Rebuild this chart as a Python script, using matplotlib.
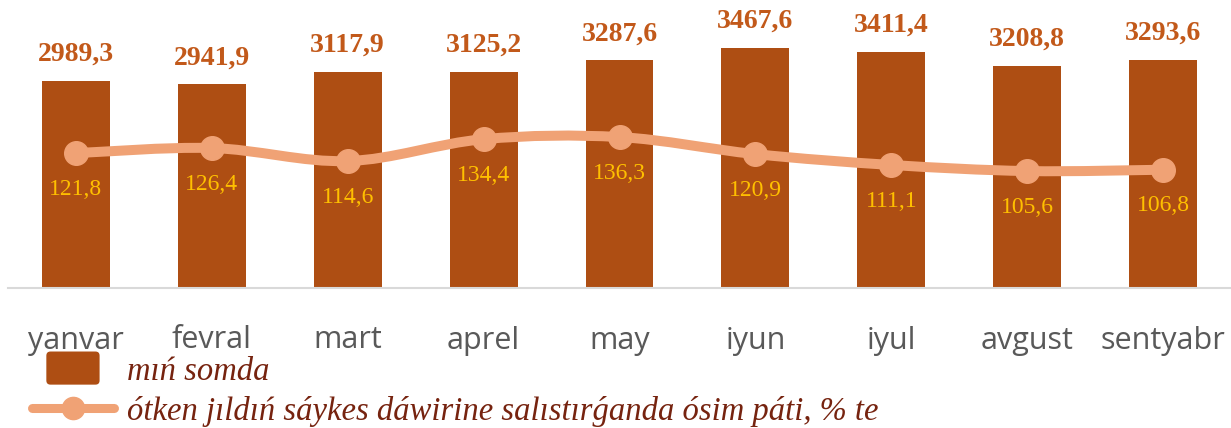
import numpy as np
import matplotlib
matplotlib.use("Agg")
import matplotlib.pyplot as plt
from matplotlib.path import Path
from matplotlib.patches import PathPatch, FancyBboxPatch
from matplotlib.lines import Line2D
from matplotlib.legend_handler import HandlerPatch

# data
months = ["yanvar", "fevral", "mart", "aprel", "may", "iyun", "iyul", "avgust", "sentyabr"]
volume = [2989.3, 2941.9, 3117.9, 3125.2, 3287.6, 3467.6, 3411.4, 3208.8, 3293.6]
growth = [121.8, 126.4, 114.6, 134.4, 136.3, 120.9, 111.1, 105.6, 106.8]
bar_name = "mıń somda"
line_name = "ótken jıldıń sáykes dáwirine salıstırǵanda ósim páti, % te"

BAR_COLOR = "#AE4E13"
BAR_LABEL_COLOR = "#C2591A"
LINE_COLOR = "#F0A275"
LINE_LABEL_COLOR = "#FFC000"
TICK_COLOR = "#595959"
LEGEND_COLOR = "#76230F"
SERIF = ["Liberation Serif", "DejaVu Serif"]


def smooth_path(xs, ys, tension=6.0):
    """Catmull-Rom style cubic bezier through the points (like Excel smoothed lines)."""
    pts = np.column_stack([xs, ys]).astype(float)
    verts = [pts[0]]
    codes = [Path.MOVETO]
    n = len(pts)
    for i in range(n - 1):
        p0 = pts[i - 1] if i > 0 else pts[i]
        p1 = pts[i]
        p2 = pts[i + 1]
        p3 = pts[i + 2] if i + 2 < n else pts[i + 1]
        c1 = p1 + (p2 - p0) / tension
        c2 = p2 - (p3 - p1) / tension
        verts += [c1, c2, p2]
        codes += [Path.CURVE4] * 3
    return Path(verts, codes)


def make_box(legend, orig_handle, xdescent, ydescent, width, height, fontsize):
    w = width * 0.65
    h = height * 1.45
    return FancyBboxPatch((-xdescent + (width - w) / 2, -ydescent + (height - h) / 2), w, h,
                          boxstyle="round,pad=0,rounding_size=3")


fig = plt.figure(figsize=(12.31, 4.28), dpi=100)
ax = fig.add_axes([8 / 1231, 140 / 428, 1223 / 1231, 268 / 428])
x = np.arange(len(months))

bars = ax.bar(x, volume, width=0.5, color=BAR_COLOR, zorder=2)
ax.set_xlim(-0.5, len(months) - 0.5)
ax.set_ylim(0, 3869)
ax.bar_label(bars, labels=[f"{v:.1f}".replace(".", ",") for v in volume], padding=10,
             fontsize=20, fontweight="bold", color=BAR_LABEL_COLOR, family=SERIF)

for side in ["top", "right", "left"]:
    ax.spines[side].set_visible(False)
ax.spines["bottom"].set_color("#D9D9D9")
ax.spines["bottom"].set_linewidth(1.5)
ax.set_yticks([])
ax.set_xticks(x)
ax.set_xticklabels(months, fontsize=22, color=TICK_COLOR, family="Open Sans")
ax.tick_params(axis="x", length=0, pad=27)

ax2 = ax.twinx()
ax2.set_ylim(0, 242)
ax2.axis("off")
ax2.add_patch(PathPatch(smooth_path(x, growth), fill=False, edgecolor=LINE_COLOR,
                        linewidth=7.2, capstyle="round", zorder=3))
ax2.plot(x, growth, linestyle="none", marker="o", markersize=17,
         color=LINE_COLOR, zorder=4)
for xi, g in zip(x, growth):
    ax2.annotate(f"{g:.1f}".replace(".", ","), (xi, g), xytext=(0, -18.5),
                 textcoords="offset points", ha="center", va="top",
                 fontsize=17, color=LINE_LABEL_COLOR, family=SERIF)

handles = [FancyBboxPatch((0, 0), 1, 1, facecolor=BAR_COLOR, edgecolor="none"),
           Line2D([], [], color=LINE_COLOR, linewidth=6.5, marker="o", markersize=16,
                  solid_capstyle="round")]
leg = fig.legend(handles, [bar_name, line_name], loc="upper left",
                 bbox_to_anchor=(32 / 1231, 1 - 356 / 428), frameon=False,
                 borderpad=0, borderaxespad=0, handlelength=2.51, handletextpad=0.4,
                 labelspacing=0.28,
                 prop={"family": SERIF, "style": "italic", "size": 23.5},
                 labelcolor=LEGEND_COLOR,
                 handler_map={FancyBboxPatch: HandlerPatch(patch_func=make_box)})

fig.savefig("out.png", dpi=100)
